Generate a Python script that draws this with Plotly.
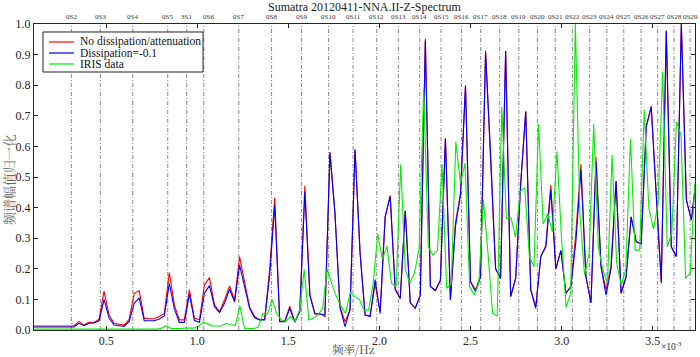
import numpy as np
import plotly.graph_objects as go

# ---------------- data (frequencies in mHz, amplitudes normalised) ----------------
# model spectra: uniform FFT bins starting at model_f0 with spacing model_df
model_f0 = 0.1028
model_df = 0.027552
no_dissipation = [
    0.013, 0.013, 0.013, 0.013, 0.013, 0.013, 0.013, 0.013, 0.013,
    0.028, 0.016, 0.025, 0.025, 0.035, 0.127, 0.049, 0.022, 0.019, 0.016,
    0.035, 0.120, 0.128, 0.038, 0.037, 0.037, 0.044, 0.054, 0.188, 0.082,
    0.033, 0.033, 0.131, 0.038, 0.033, 0.147, 0.171, 0.082, 0.060, 0.098,
    0.144, 0.098, 0.240, 0.153, 0.074, 0.044, 0.033, 0.035, 0.200, 0.432,
    0.029, 0.027, 0.078, 0.027, 0.065, 0.471, 0.114, 0.052, 0.054, 0.044,
    0.582, 0.381, 0.076, 0.027, 0.065, 0.591, 0.252, 0.049, 0.046, 0.150,
    0.060, 0.370, 0.440, 0.136, 0.103, 0.390, 0.089, 0.071, 0.114, 0.952,
    0.142, 0.129, 0.163, 0.626, 0.098, 0.350, 0.447, 0.800, 0.158, 0.131,
    0.174, 0.913, 0.577, 0.200, 0.169, 0.912, 0.109, 0.169, 0.479, 0.714,
    0.131, 0.076, 0.240, 0.275, 0.474, 0.200, 0.260, 0.120, 0.142, 0.320,
    0.542, 0.174, 0.089, 0.566, 0.207, 0.131, 0.210, 0.487, 0.120, 0.174,
    0.370, 0.289, 0.281, 0.664, 0.732, 0.440, 0.152, 0.978, 0.272, 0.240,
    1.000, 0.425, 0.360, 0.500,
]
dissipation = [
    0.010, 0.010, 0.010, 0.010, 0.010, 0.010, 0.010, 0.010, 0.010,
    0.022, 0.014, 0.022, 0.023, 0.030, 0.100, 0.039, 0.016, 0.014, 0.012,
    0.028, 0.087, 0.105, 0.030, 0.030, 0.030, 0.036, 0.046, 0.152, 0.069,
    0.025, 0.025, 0.117, 0.031, 0.025, 0.120, 0.145, 0.076, 0.057, 0.087,
    0.133, 0.092, 0.212, 0.142, 0.071, 0.040, 0.033, 0.033, 0.180, 0.408,
    0.027, 0.027, 0.071, 0.025, 0.060, 0.452, 0.114, 0.054, 0.052, 0.050,
    0.578, 0.381, 0.074, 0.011, 0.067, 0.588, 0.252, 0.049, 0.044, 0.165,
    0.054, 0.370, 0.436, 0.131, 0.103, 0.390, 0.089, 0.071, 0.114, 0.945,
    0.142, 0.129, 0.163, 0.626, 0.098, 0.338, 0.441, 0.798, 0.158, 0.125,
    0.174, 0.905, 0.577, 0.200, 0.169, 0.912, 0.109, 0.169, 0.479, 0.714,
    0.131, 0.071, 0.240, 0.272, 0.458, 0.200, 0.260, 0.120, 0.142, 0.290,
    0.523, 0.174, 0.089, 0.550, 0.207, 0.114, 0.200, 0.487, 0.120, 0.174,
    0.370, 0.289, 0.281, 0.664, 0.728, 0.440, 0.158, 0.978, 0.272, 0.240,
    1.000, 0.425, 0.360, 0.500,
]

# observed IRIS spectrum: its own FFT bins
iris_f0 = 0.0992
iris_df = 0.025220
iris_data = [
    0.003, 0.003, 0.003, 0.003, 0.003, 0.003, 0.003, 0.003, 0.003, 0.003,
    0.003, 0.003, 0.003, 0.003, 0.003, 0.003, 0.003, 0.003, 0.003, 0.003,
    0.003, 0.003, 0.003, 0.003, 0.003, 0.003, 0.003, 0.003,
    0.006, 0.014, 0.005, 0.004, 0.005, 0.006, 0.006, 0.006, 0.012, 0.025,
    0.020, 0.013, 0.013, 0.013, 0.022, 0.017, 0.015, 0.078, 0.006, 0.004,
    0.004, 0.010, 0.054, 0.052, 0.100, 0.054, 0.033, 0.028, 0.044, 0.028,
    0.065, 0.198, 0.033, 0.038, 0.050, 0.070, 0.200, 0.150, 0.110, 0.078,
    0.054, 0.122, 0.109, 0.100, 0.065, 0.065, 0.150,
    0.314, 0.231, 0.275, 0.153, 0.142, 0.542, 0.196, 0.153, 0.187, 0.264,
    0.788, 0.272, 0.245, 0.261, 0.542, 0.136, 0.153, 0.615, 0.479, 0.545,
    0.142, 0.114, 0.153, 0.425, 0.250, 0.054, 0.046, 0.728, 0.365, 0.367,
    0.303, 0.452, 0.465, 0.240, 0.207, 0.673, 0.346, 0.381, 0.321, 0.583,
    0.300, 0.074, 0.120, 1.000, 0.380, 0.180, 0.250, 0.673, 0.272, 0.196,
    0.153, 0.572, 0.218, 0.147, 0.200, 0.626, 0.261, 0.261, 0.719, 0.400,
    0.330, 0.410, 0.844, 0.272, 0.316, 0.681, 0.637, 0.169, 0.185, 0.479,
]

# normal-mode labels and frequencies (mHz)
mode_names = ["0S2", "0S3", "0S4", "0S5", "3S1", "0S6", "0S7", "0S8", "0S9", "0S10",
              "0S11", "0S12", "0S13", "0S14", "0S15", "0S16", "0S17", "0S18", "0S19",
              "0S20", "0S21", "0S22", "0S23", "0S24", "0S25", "0S26", "0S27", "0S28", "0S29"]
mode_freqs = [0.309, 0.468, 0.646, 0.838, 0.942, 1.036, 1.228, 1.408, 1.572, 1.721,
              1.855, 1.985, 2.104, 2.221, 2.338, 2.450, 2.556, 2.660, 2.765,
              2.867, 2.965, 3.059, 3.154, 3.248, 3.341, 3.436, 3.527, 3.617, 3.705]

x_tick_vals = [0.5, 1.0, 1.5, 2.0, 2.5, 3.0, 3.5]
x_tick_text = ["0.5", "1.0", "1.5", "2.0", "2.5", "3.0", "3.5"]
y_tick_vals = [0.0, 0.1, 0.2, 0.3, 0.4, 0.5, 0.6, 0.7, 0.8, 0.9, 1.0]

series_names = ["No dissipation/attenuation", "Dissipation=-0.1", "IRIS data"]
series_colors = ["#ff0000", "#0000ff", "#00ee00"]

model_freq = model_f0 + model_df * np.arange(len(no_dissipation))
iris_freq = iris_f0 + iris_df * np.arange(len(iris_data))

SERIF = "Liberation Serif, Times New Roman, serif"
CJK = "Noto Serif CJK SC, Noto Sans CJK SC, sans-serif"

fig = go.Figure()
for xs, ys, name, col in [(model_freq, no_dissipation, series_names[0], series_colors[0]),
                          (model_freq, dissipation, series_names[1], series_colors[1]),
                          (iris_freq, iris_data, series_names[2], series_colors[2])]:
    fig.add_trace(go.Scatter(x=xs, y=ys, mode="lines", name=name,
                             line=dict(color=col, width=1.1), showlegend=False,
                             cliponaxis=True, hoverinfo="skip"))

shapes = []
annotations = []
for f, nm in zip(mode_freqs, mode_names):
    shapes.append(dict(type="line", xref="x", yref="paper", x0=f, x1=f, y0=0, y1=1,
                       line=dict(color="#7a7a7a", width=0.9, dash="4px,2px,1px,2px"),
                       layer="below"))
    annotations.append(dict(x=f, xref="x", y=1, yref="paper", yanchor="bottom",
                            yshift=1, xshift=(5 if nm == "0S6" else 0), text=nm,
                            showarrow=False,
                            font=dict(family=SERIF, size=7, color="#333333")))

# legend (drawn manually to match compact layout)
shapes.append(dict(type="rect", xref="paper", yref="paper", x0=0.0136, x1=0.2557,
                   y0=0.8431, y1=0.9739, line=dict(color="#222222", width=1),
                   fillcolor="white", layer="above"))
legend_rows = [0.9412, 0.9052, 0.8693]
for ry, nm, col in zip(legend_rows, series_names, series_colors):
    shapes.append(dict(type="line", xref="paper", yref="paper", x0=0.0227, x1=0.0605,
                       y0=ry, y1=ry, line=dict(color=col, width=1.2), layer="above"))
    annotations.append(dict(x=0.0666, xref="paper", y=ry, yref="paper", xanchor="left",
                            yanchor="middle", text=nm, showarrow=False,
                            font=dict(family=SERIF, size=11.5, color="#111111")))

annotations.append(dict(x=0.5, xref="paper", y=1, yref="paper", yanchor="middle",
                        yshift=17, text="Sumatra 20120411-NNA.II-Z-Spectrum",
                        showarrow=False, font=dict(family=SERIF, size=12, color="#222222")))
annotations.append(dict(x=0.484, xref="paper", y=0, yref="paper", yanchor="middle",
                        yshift=-18.5, text="频率/Hz", showarrow=False,
                        font=dict(family=CJK, size=11.5, color="#444444")))
annotations.append(dict(x=0.983, xref="paper", y=0, yref="paper", yanchor="middle",
                        yshift=-16, text="×10<sup>-3</sup>", showarrow=False,
                        font=dict(family=SERIF, size=9.5, color="#333333")))
annotations.append(dict(x=0, xref="paper", xanchor="center", xshift=-26, y=0.49,
                        yref="paper", yanchor="middle", textangle=-90,
                        text="频谱幅值归一化", showarrow=False,
                        font=dict(family=CJK, size=13, color="#666666")))

axis_common = dict(showline=True, linecolor="#262626", linewidth=1, mirror="ticks",
                   ticks="inside", ticklen=4, tickcolor="#262626", showgrid=False,
                   zeroline=False, tickfont=dict(family=SERIF, size=12, color="#262626"))

fig.update_layout(
    width=700, height=357,
    margin=dict(l=34, r=5, t=24, b=27),
    paper_bgcolor="white", plot_bgcolor="white",
    showlegend=False,
    hovermode=False,
    xaxis=dict(range=[0.104, 3.732], tickvals=x_tick_vals, ticktext=x_tick_text,
               **axis_common),
    yaxis=dict(range=[0, 1], tickvals=y_tick_vals, tickformat=".1f", **axis_common),
    shapes=shapes,
    annotations=annotations,
)

fig.write_html("out.html", config={"displayModeBar": False, "staticPlot": True},
               post_script="document.body.style.margin='0';document.body.style.overflow='hidden';")
